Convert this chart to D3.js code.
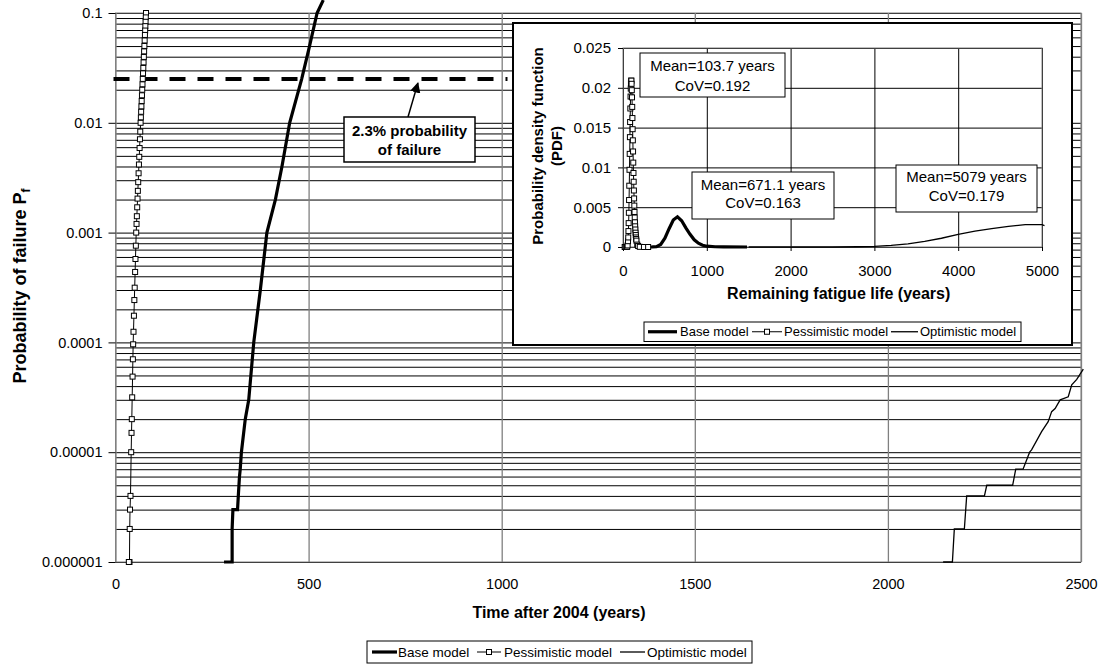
<!DOCTYPE html>
<html><head><meta charset="utf-8">
<script src="https://cdn.jsdelivr.net/npm/d3@7"></script>
<style>body{margin:0;background:#fff} text{font-family:"Liberation Sans",Arial,sans-serif;fill:#000}</style>
</head><body><svg id="c" width="1103" height="666"></svg>
<script>
// ---------------- data: main chart ----------------
const xTicks = [0, 500, 1000, 1500, 2000, 2500];
const yTicks = [1e-6, 1e-5, 1e-4, 1e-3, 1e-2, 1e-1];
const yTickLabels = ["0.000001", "0.00001", "0.0001", "0.001", "0.01", "0.1"];
const xTitle = "Time after 2004 (years)";
const yTitle = "Probability of failure P";
const yTitleSub = "f";
const seriesNames = ["Base model", "Pessimistic model", "Optimistic model"];

const baseYears = [281, 302, 302, 304, 316, 318, 321, 323, 326, 336, 345, 358, 375, 392, 414, 431, 451, 482, 500, 522, 538];
const baseProb  = [1e-6, 1e-6, 2e-6, 3e-6, 3e-6, 4e-6, 6e-6, 7e-6, 1e-5, 2e-5, 3e-5, 1e-4, 3e-4, 1e-3, 0.002, 0.004, 0.01, 0.025, 0.046, 0.1, 0.131];

const pessYears = [79, 78.4, 77.9, 77.3, 76.8, 76.2, 75.5, 74.8, 74.1, 73.4, 72.7, 72, 71.3, 70.6, 69.9, 69.2, 68.5, 67.8, 67.1, 66.4, 65.7, 65,
  64.1, 63.3, 62.4, 61.5, 60.7, 59.8, 58.8, 57.9, 57.1, 56.2, 55.3, 54.5, 53.6,
  52.7, 51.7, 50.8, 49.7, 48.8, 47.7, 46.6, 45.7,
  45.0, 44.2, 43.2, 42.2, 41.5, 40.6,
  38.8, 37.6, 36.8, 36.2, 34.5];
const pessProb = [0.1, 0.0912, 0.0832, 0.0759, 0.0692, 0.0631, 0.0562, 0.0501, 0.0447, 0.0398, 0.0355, 0.0316, 0.0282, 0.0251, 0.0224, 0.02, 0.0178, 0.0158, 0.0141, 0.0126, 0.0112, 0.01,
  0.00832, 0.00708, 0.00589, 0.0049, 0.00417, 0.00347, 0.00288, 0.0024, 0.00204, 0.0017, 0.00141, 0.0012, 0.001,
  0.00076, 0.000575, 0.000438, 0.000315, 0.000243, 0.000175, 0.000125, 0.0000961,
  0.0000702, 0.0000488, 0.0000316, 0.00002, 0.000015, 0.00001,
  0.000004, 0.000003, 0.000002, 0.000001, 0.000001];

const optYears = [2143, 2167, 2172, 2198, 2204, 2250, 2256, 2323, 2331, 2350, 2367, 2372, 2398, 2415, 2424, 2433, 2446, 2467, 2476, 2489, 2506];
const optProb  = [1e-6, 1e-6, 2e-6, 2e-6, 4e-6, 4e-6, 5e-6, 5e-6, 7e-6, 7e-6, 1e-5, 1.05e-5, 1.54e-5, 1.9e-5, 2.34e-5, 2.5e-5, 3e-5, 3.2e-5, 4.1e-5, 4.6e-5, 5.7e-5];

const thresholdProb = 0.025;
const thresholdRange = [0, 1015];
const thresholdLabel = ["2.3% probability", "of failure"];

// ---------------- data: inset ----------------
const insetXTicks = [0, 1000, 2000, 3000, 4000, 5000];
const insetYTicks = [0, 0.005, 0.01, 0.015, 0.02, 0.025];
const insetYTickLabels = ["0", "0.005", "0.01", "0.015", "0.02", "0.025"];
const insetXTitle = "Remaining fatigue life (years)";
const insetYTitle = ["Probability density function", "(PDF)"];

const baseLife = [250, 350, 400, 450, 500, 550, 600, 650, 700, 750, 800, 850, 900, 950, 1000, 1100, 1200, 1480];
const basePdf  = [0, 0.00002, 0.00005, 0.00032, 0.0011, 0.0023, 0.0034, 0.0038, 0.0033, 0.0024, 0.0016, 0.0009, 0.00047, 0.00022, 0.0001, 0.00003, 0.00001, 0];

const pessLife = [20, 30, 40, 45, 50, 55, 60, 62.5, 65, 67.5, 70, 72.5, 75, 77.5, 80, 82.5, 85, 87.5, 90, 92.5, 95, 97.5, 100,
  102.5, 105, 107.5, 110, 112.5, 115, 117.5, 120, 122.5, 125, 127.5, 130, 132.5, 135, 137.5, 140, 142.5, 145, 147.5, 150,
  152.5, 155, 157.5, 160, 170, 180, 200, 250, 300];
const pessPdf  = [0, 0, 0.000001, 0.000005, 0.00004, 0.0002, 0.00073, 0.0012, 0.002, 0.003, 0.0043, 0.0059, 0.0077, 0.0097, 0.0117, 0.0138, 0.0157, 0.0174, 0.0189, 0.0199, 0.0206, 0.0209, 0.0209,
  0.0205, 0.0197, 0.0188, 0.0176, 0.0162, 0.0148, 0.0134, 0.012, 0.0106, 0.0093, 0.0082, 0.0071, 0.0061, 0.0052, 0.0044, 0.0037, 0.0031, 0.0026, 0.0022, 0.0018,
  0.0015, 0.0012, 0.001, 0.0008, 0.0003, 0.00013, 0.00002, 0, 0];

const optLife = [1500, 2500, 2800, 3000, 3200, 3400, 3600, 3800, 4000, 4200, 4400, 4600, 4800, 4900, 5000, 5030];
const optPdf  = [0, 0, 0.00003, 0.00008, 0.0002, 0.0004, 0.0007, 0.0011, 0.0016, 0.002, 0.0023, 0.0026, 0.0028, 0.00282, 0.0028, 0.0027];

const statLabels = [
  ["Mean=103.7 years", "CoV=0.192"],
  ["Mean=671.1 years", "CoV=0.163"],
  ["Mean=5079 years", "CoV=0.179"]
];

// ---------------- drawing ----------------
const svg = d3.select("#c");
svg.append("rect").attr("width", 1103).attr("height", 666).attr("fill", "#fff");

const x = d3.scaleLinear().domain([0, 2500]).range([115.5, 1081]);
const y = d3.scaleLog().domain([1e-6, 0.1]).range([562, 13]);
const pw = x.range()[1] - x.range()[0], ph = y.range()[0] - y.range()[1];

// horizontal grid (all log ticks)
svg.append("g").attr("transform", `translate(${x.range()[0]},0)`)
  .call(d3.axisLeft(y).tickValues(y.ticks()).tickSize(-pw).tickFormat(""))
  .call(g => { g.select(".domain").remove(); g.selectAll("line").attr("stroke", "#000").attr("stroke-width", 1); });
// vertical grid
svg.append("g").attr("transform", `translate(0,${y.range()[0]})`)
  .call(d3.axisBottom(x).tickValues(xTicks).tickSize(-ph).tickFormat(""))
  .call(g => { g.select(".domain").remove(); g.selectAll("line").attr("stroke", "#808080").attr("stroke-width", 1.3); });
// plot border
svg.append("rect").attr("x", x.range()[0]).attr("y", y.range()[1]).attr("width", pw).attr("height", ph)
  .attr("fill", "none").attr("stroke", "#808080").attr("stroke-width", 1);

// y axis
svg.append("g").attr("transform", `translate(${x.range()[0]},0)`)
  .call(d3.axisLeft(y).tickValues(yTicks).tickSize(7).tickPadding(6).tickFormat((d, i) => yTickLabels[i]))
  .call(g => { g.select(".domain").remove(); g.selectAll("line").attr("stroke", "#000");
    g.selectAll("text").attr("font-size", "14.5px").attr("font-family", "Liberation Sans, Arial, sans-serif").attr("fill", "#000"); });
// x axis
svg.append("g").attr("transform", `translate(0,${y.range()[0]})`)
  .call(d3.axisBottom(x).tickValues(xTicks).tickSize(0).tickPadding(16.5).tickFormat(d3.format("d")))
  .call(g => { g.select(".domain").remove();
    g.selectAll("text").attr("font-size", "14.5px").attr("font-family", "Liberation Sans, Arial, sans-serif").attr("fill", "#000"); });

// titles
svg.append("text").attr("x", 559).attr("y", 618).attr("text-anchor", "middle")
  .attr("font-size", "16px").attr("font-weight", "bold").text(xTitle);
const yt = svg.append("text").attr("transform", "translate(26,286) rotate(-90)").attr("text-anchor", "middle")
  .attr("font-size", "18px").attr("font-weight", "bold");
yt.append("tspan").text(yTitle);
yt.append("tspan").attr("font-size", "12px").attr("dy", 4).text(yTitleSub);

// threshold dashed line
svg.append("line").attr("x1", x(thresholdRange[0]) - 2).attr("x2", x(thresholdRange[1]))
  .attr("y1", y(thresholdProb)).attr("y2", y(thresholdProb))
  .attr("stroke", "#000").attr("stroke-width", 4).attr("stroke-dasharray", "16,12");

// series
const mainLine = (xs, ys) => d3.line()(xs.map((v, i) => [x(v), y(ys[i])]));
svg.append("path").attr("d", mainLine(optYears, optProb)).attr("fill", "none").attr("stroke", "#000").attr("stroke-width", 1.3);
svg.append("path").attr("d", mainLine(baseYears, baseProb)).attr("fill", "none").attr("stroke", "#000").attr("stroke-width", 3.2);
svg.append("path").attr("d", mainLine(pessYears, pessProb)).attr("fill", "none").attr("stroke", "#000").attr("stroke-width", 1);
svg.append("g").selectAll("rect").data(pessYears.map((v, i) => [v, pessProb[i]])).join("rect")
  .attr("x", d => x(d[0]) - 2.5).attr("y", d => y(d[1]) - 2.5).attr("width", 5).attr("height", 5)
  .attr("fill", "#fff").attr("stroke", "#000").attr("stroke-width", 1);

// annotation box + arrow
const ax = x(783), ay = y(thresholdProb) + 4;
const bx = 344, by = 117, bw = 131, bh = 45;
svg.append("defs").append("marker").attr("id", "ah").attr("viewBox", "0 0 10 10").attr("refX", 9).attr("refY", 5)
  .attr("markerWidth", 7).attr("markerHeight", 7).attr("orient", "auto")
  .append("path").attr("d", "M0,0 L10,5 L0,10 z").attr("fill", "#000");
svg.append("line").attr("x1", 408).attr("y1", by).attr("x2", ax).attr("y2", ay)
  .attr("stroke", "#000").attr("stroke-width", 1.5).attr("marker-end", "url(#ah)");
svg.append("rect").attr("x", bx).attr("y", by).attr("width", bw).attr("height", bh)
  .attr("fill", "#fff").attr("stroke", "#000").attr("stroke-width", 1.5);
thresholdLabel.forEach((t, i) => svg.append("text").attr("x", bx + bw / 2).attr("y", by + 19 + i * 19)
  .attr("text-anchor", "middle").attr("font-size", "15px").attr("font-weight", "bold").text(t));

// ---------------- inset ----------------
svg.append("rect").attr("x", 513).attr("y", 23).attr("width", 559).attr("height", 322)
  .attr("fill", "#fff").attr("stroke", "#000").attr("stroke-width", 2);
const xi = d3.scaleLinear().domain([0, 5000]).range([623, 1042]);
const yi = d3.scaleLinear().domain([0, 0.025]).range([247, 48]);
const ipw = xi.range()[1] - xi.range()[0], iph = yi.range()[0] - yi.range()[1];

svg.append("g").attr("transform", `translate(${xi.range()[0]},0)`)
  .call(d3.axisLeft(yi).tickValues(insetYTicks).tickSize(-ipw).tickFormat(""))
  .call(g => { g.select(".domain").remove(); g.selectAll("line").attr("stroke", "#000"); });
svg.append("g").attr("transform", `translate(0,${yi.range()[0]})`)
  .call(d3.axisBottom(xi).tickValues(insetXTicks).tickSize(-iph).tickFormat(""))
  .call(g => { g.select(".domain").remove(); g.selectAll("line").attr("stroke", "#000"); });
svg.append("rect").attr("x", xi.range()[0]).attr("y", yi.range()[1]).attr("width", ipw).attr("height", iph)
  .attr("fill", "none").attr("stroke", "#808080");

svg.append("g").attr("transform", `translate(${xi.range()[0]},0)`)
  .call(d3.axisLeft(yi).tickValues(insetYTicks).tickSize(5).tickPadding(7).tickFormat((d, i) => insetYTickLabels[i]))
  .call(g => { g.select(".domain").remove(); g.selectAll("line").attr("stroke", "#000");
    g.selectAll("text").attr("font-size", "15px").attr("font-family", "Liberation Sans, Arial, sans-serif").attr("fill", "#000"); });
svg.append("g").attr("transform", `translate(0,${yi.range()[0]})`)
  .call(d3.axisBottom(xi).tickValues(insetXTicks).tickSize(4).tickPadding(14).tickFormat(d3.format("d")))
  .call(g => { g.select(".domain").remove(); g.selectAll("line").attr("stroke", "#000");
    g.selectAll("text").attr("font-size", "15px").attr("font-family", "Liberation Sans, Arial, sans-serif").attr("fill", "#000"); });

svg.append("text").attr("x", 838.7).attr("y", 299).attr("text-anchor", "middle")
  .attr("font-size", "16px").attr("font-weight", "bold").text(insetXTitle);
insetYTitle.forEach((t, i) => svg.append("text").attr("transform", `translate(${543 + i * 19},146) rotate(-90)`)
  .attr("text-anchor", "middle").attr("font-size", "15px").attr("font-weight", "bold").text(t));

const insetLine = (xs, ys) => d3.line()(xs.map((v, i) => [xi(v), yi(ys[i])]));
svg.append("path").attr("d", insetLine(baseLife, basePdf)).attr("fill", "none").attr("stroke", "#000").attr("stroke-width", 3.2);
svg.append("path").attr("d", insetLine(optLife, optPdf)).attr("fill", "none").attr("stroke", "#000").attr("stroke-width", 1.3);
svg.append("path").attr("d", insetLine(pessLife, pessPdf)).attr("fill", "none").attr("stroke", "#000").attr("stroke-width", 1);
svg.append("g").selectAll("rect").data(pessLife.map((v, i) => [v, pessPdf[i]])).join("rect")
  .attr("x", d => xi(d[0]) - 2.5).attr("y", d => yi(d[1]) - 2.5).attr("width", 5).attr("height", 5)
  .attr("fill", "#fff").attr("stroke", "#000").attr("stroke-width", 1);

// stat boxes
const statBoxes = [
  {x: 640, y: 53, w: 145, h: 44, b: [71, 90.5]},
  {x: 692, y: 172, w: 142, h: 47, b: [190, 208]},
  {x: 896, y: 165, w: 141, h: 47, b: [181.5, 201]}
];
statBoxes.forEach((s, k) => {
  svg.append("rect").attr("x", s.x).attr("y", s.y).attr("width", s.w).attr("height", s.h)
    .attr("fill", "#fff").attr("stroke", "#000").attr("stroke-width", 1);
  statLabels[k].forEach((t, i) => svg.append("text").attr("x", s.x + s.w / 2).attr("y", s.b[i])
    .attr("text-anchor", "middle").attr("font-size", "15px").text(t));
});

// ---------------- legends ----------------
function legend(lx, ly, lw, lh, fs, items) {
  svg.append("rect").attr("x", lx).attr("y", ly).attr("width", lw).attr("height", lh)
    .attr("fill", "#fff").attr("stroke", "#000").attr("stroke-width", 1);
  const cy = ly + lh / 2;
  items.forEach((it, i) => {
    svg.append("line").attr("x1", it.l0).attr("x2", it.l1).attr("y1", cy).attr("y2", cy)
      .attr("stroke", "#000").attr("stroke-width", [3.2, 1, 1.3][i]);
    if (i === 1) svg.append("rect").attr("x", (it.l0 + it.l1) / 2 - 2.5).attr("y", cy - 2.5).attr("width", 5).attr("height", 5)
      .attr("fill", "#fff").attr("stroke", "#000");
    svg.append("text").attr("x", it.t).attr("y", cy + fs * 0.36).attr("font-size", fs + "px").text(seriesNames[i]);
  });
}
legend(644, 322, 377, 19.5, 13, [{l0: 648, l1: 677, t: 680}, {l0: 752, l1: 782, t: 784}, {l0: 891, l1: 918, t: 920}]);
legend(367, 641, 385, 22, 13.5, [{l0: 372, l1: 397, t: 398}, {l0: 477, l1: 501, t: 504}, {l0: 620, l1: 645, t: 647}]);
</script></body></html>
